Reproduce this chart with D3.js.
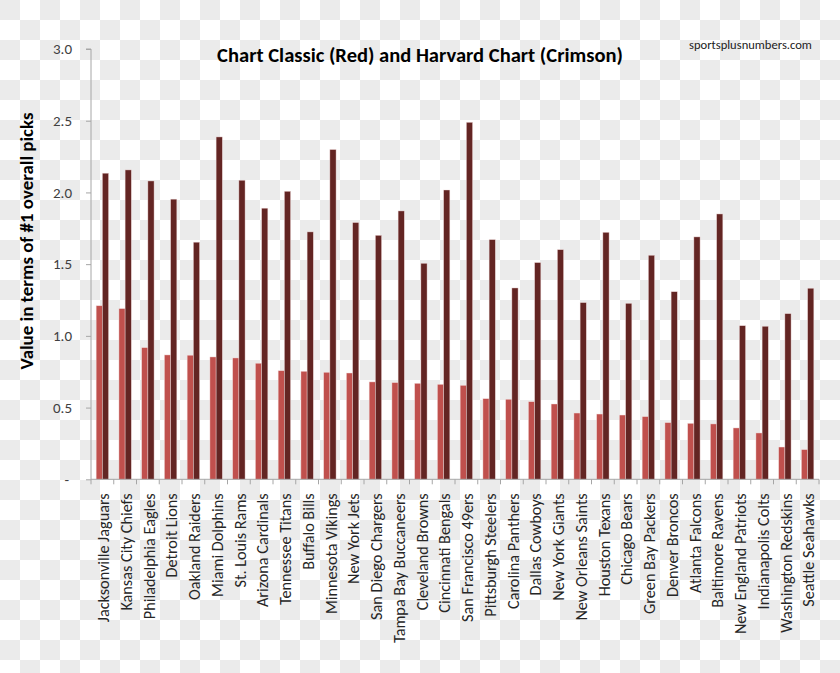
<!DOCTYPE html>
<html>
<head>
<meta charset="utf-8">
<script src="https://cdn.jsdelivr.net/npm/d3@7"></script>
<style>
  html, body { margin: 0; padding: 0; background: #fff; }
  svg { display: block; }
</style>
</head>
<body>
<script>
// ---- Data ----
const teams = ["Jacksonville Jaguars","Kansas City Chiefs","Philadelphia Eagles","Detroit Lions","Oakland Raiders","Miami Dolphins","St. Louis Rams","Arizona Cardinals","Tennessee Titans","Buffalo Bills","Minnesota Vikings","New York Jets","San Diego Chargers","Tampa Bay Buccaneers","Cleveland Browns","Cincinnati Bengals","San Francisco 49ers","Pittsburgh Steelers","Carolina Panthers","Dallas Cowboys","New York Giants","New Orleans Saints","Houston Texans","Chicago Bears","Green Bay Packers","Denver Broncos","Atlanta Falcons","Baltimore Ravens","New England Patriots","Indianapolis Colts","Washington Redskins","Seattle Seahawks"];
const chartClassic = [1.21,1.19,0.918,0.867,0.865,0.853,0.846,0.809,0.757,0.753,0.746,0.741,0.679,0.674,0.669,0.662,0.655,0.562,0.558,0.541,0.525,0.462,0.455,0.448,0.437,0.395,0.390,0.386,0.358,0.323,0.225,0.207];
const harvardChart = [2.134,2.157,2.080,1.953,1.653,2.387,2.085,1.890,2.008,1.725,2.299,1.790,1.701,1.871,1.506,2.017,2.489,1.671,1.334,1.511,1.601,1.232,1.722,1.227,1.562,1.308,1.690,1.850,1.071,1.067,1.155,1.332];
const seriesNames = ["Chart Classic (Red)", "Harvard Chart (Crimson)"];
const yTicks = [0, 0.5, 1.0, 1.5, 2.0, 2.5, 3.0];
const yTickLabels = ["-", "0.5", "1.0", "1.5", "2.0", "2.5", "3.0"];
const titleText = "Chart Classic (Red) and Harvard Chart (Crimson)";
const sourceText = "sportsplusnumbers.com";
const yAxisTitle = "Value in terms of #1 overall picks";

// ---- Layout / style ----
const W = 840, H = 673;
const plot = { left: 91, right: 819, top: 49, bottom: 479.3 };
const colors = ["#c0504d", "#632523"];
const axisColor = "#a6a6a6";
const FONT = "Carlito, Lato, 'Open Sans', sans-serif";

const svg = d3.select("body").append("svg").attr("width", W).attr("height", H);

// checkerboard (transparent background look)
const defs = svg.append("defs");
const pat = defs.append("pattern").attr("id", "checker")
  .attr("width", 40).attr("height", 40).attr("patternUnits", "userSpaceOnUse");
pat.append("rect").attr("width", 40).attr("height", 40).attr("fill", "#ffffff");
pat.append("rect").attr("x", 0).attr("y", 0).attr("width", 20).attr("height", 20).attr("fill", "#ebebeb");
pat.append("rect").attr("x", 20).attr("y", 20).attr("width", 20).attr("height", 20).attr("fill", "#ebebeb");
svg.append("rect").attr("width", W).attr("height", H).attr("fill", "url(#checker)");

// scales
const x0 = d3.scaleBand().domain(teams).range([plot.left, plot.right]).paddingInner(0).paddingOuter(0);
const x1 = d3.scaleBand().domain(seriesNames).range([0, x0.bandwidth()]).paddingInner(0).paddingOuter(0.835);
const y = d3.scaleLinear().domain([0, 3]).range([plot.bottom, plot.top]);

const rows = teams.map((t, i) => ({ team: t, values: [chartClassic[i], harvardChart[i]] }));

// bars
const g = svg.append("g");
const groups = g.selectAll("g.cat").data(rows).join("g")
  .attr("transform", d => `translate(${x0(d.team)},0)`);
groups.selectAll("rect").data(d => d.values.map((v, k) => ({ v, k })))
  .join("rect")
  .attr("x", d => x1(seriesNames[d.k]))
  .attr("width", x1.bandwidth())
  .attr("y", d => y(d.v))
  .attr("height", d => y(0) - y(d.v))
  .attr("fill", d => colors[d.k])
  .attr("stroke", "#f4dede")
  .attr("stroke-opacity", 0.7)
  .attr("stroke-width", 0.6);

// y axis
const yAxis = d3.axisLeft(y).tickValues(yTicks)
  .tickFormat((d, i) => yTickLabels[i]).tickSize(5).tickPadding(14);
const ya = svg.append("g").attr("transform", `translate(${plot.left},0)`).call(yAxis);
ya.select(".domain").attr("stroke", axisColor).attr("d", `M-5,${plot.top}H0V${plot.bottom}`);
ya.selectAll(".tick line").attr("stroke", axisColor);
ya.selectAll(".tick text").attr("font-family", FONT).attr("font-size", 15).attr("fill", "#404040");
ya.selectAll(".tick text").filter(d => d === 0).attr("dx", -3);

// x axis
const xa = svg.append("g").attr("transform", `translate(0,${plot.bottom})`);
xa.append("line").attr("x1", plot.left).attr("x2", plot.right).attr("y1", 0).attr("y2", 0)
  .attr("stroke", axisColor);
const bounds = teams.map(t => x0(t)).concat([plot.right]);
xa.selectAll("line.tk").data(bounds).join("line").attr("class", "tk")
  .attr("x1", d => d).attr("x2", d => d).attr("y1", 0).attr("y2", 5).attr("stroke", axisColor);
const xl = xa.selectAll("text.lab").data(teams).join("text").attr("class", "lab")
  .attr("transform", d => `translate(${x0(d) + x0.bandwidth() / 2 + 1},14) rotate(-90)`)
  .attr("text-anchor", "end")
  .attr("dy", "0.35em")
  .attr("font-family", FONT)
  .attr("font-size", 14)
  .attr("fill", "#262626")
  .text(d => d);

// fit helpers
function fitWidth(sel, target) {
  const node = sel.node();
  const base = parseFloat(sel.attr("font-size"));
  const w = node.getComputedTextLength();
  sel.attr("font-size", base * target / w);
}
// x labels: fit so first label matches reference length
{
  const first = xl.filter((d, i) => i === 0);
  const base = 14;
  const w = first.node().getComputedTextLength();
  xl.attr("font-size", base * 129 / w);
}

// title
const title = svg.append("text").attr("x", 420).attr("y", 61.5)
  .attr("text-anchor", "middle").attr("font-family", FONT).attr("font-weight", "bold")
  .attr("font-size", 18).attr("fill", "#000").text(titleText);
fitWidth(title, 406);

// source
const src = svg.append("text").attr("x", 689).attr("y", 48.5)
  .attr("font-family", FONT).attr("font-size", 12).attr("fill", "#222").text(sourceText);
fitWidth(src, 123);

// y axis title
const yt = svg.append("text")
  .attr("transform", `translate(33,241) rotate(-90)`)
  .attr("text-anchor", "middle").attr("font-family", FONT).attr("font-weight", "bold")
  .attr("font-size", 16).attr("fill", "#000").text(yAxisTitle);
fitWidth(yt, 257);
</script>
</body>
</html>
